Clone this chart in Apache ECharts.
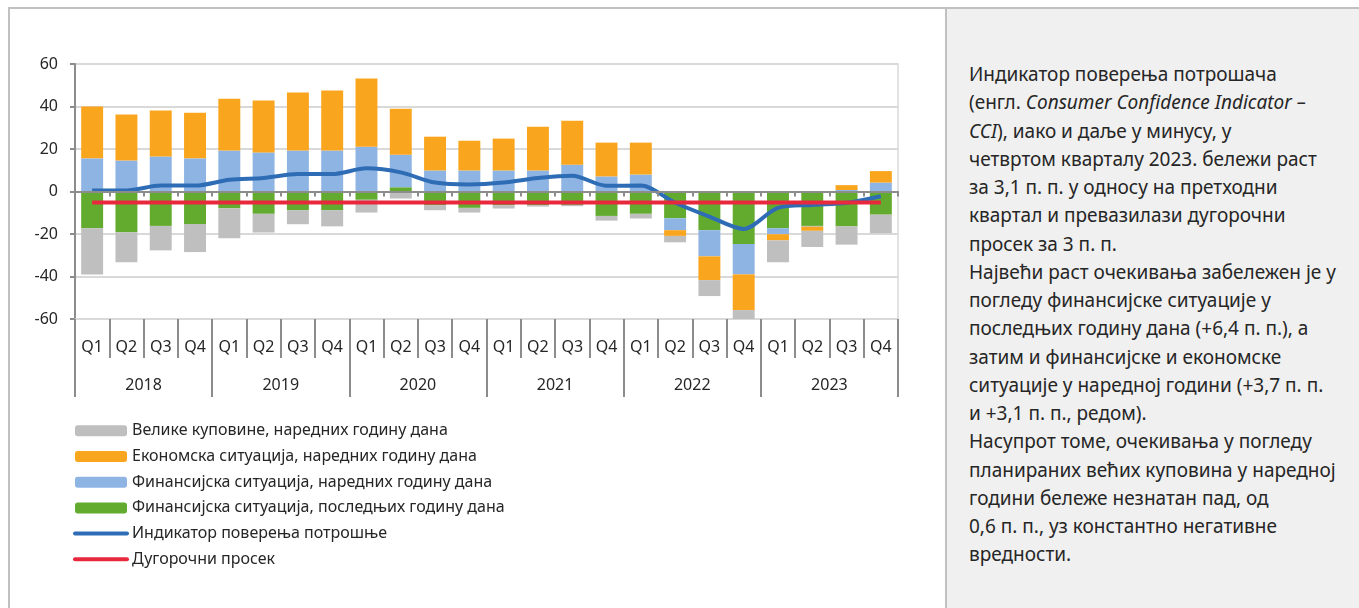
<!DOCTYPE html>
<html>
<head>
<meta charset="utf-8">
<script src="https://cdn.jsdelivr.net/npm/echarts@6/dist/echarts.min.js"></script>
<style>
	body { margin: 0; background: #fff; }
	#frame { position: absolute; left: 8px; top: 7px; width: 1351px; height: 601px;
		border-left: 2px solid #c0c0c0; border-top: 2px solid #c0c0c0; }
	#side { position: absolute; left: 945px; top: 9px; right: 0; bottom: 0;
		background: #f0f0f0; border-left: 2px solid #c0c0c0; }
	#note { position: absolute; left: 969px; top: 60px; font-family: 'Noto Sans', sans-serif;
		font-size: 19px; line-height: 28.25px; color: #262626; white-space: nowrap; }
	#chart { position: absolute; left: 0; top: 0; width: 945px; height: 608px; }
</style>
</head>
<body>
<div id="frame"></div>
<div id="side"></div>
<div id="note">
Индикатор поверења потрошача<br>
(енгл. <i>Consumer Confidence Indicator –</i><br>
<i>CCI</i>), иако и даље у минусу, у<br>
четвртом кварталу 2023. бележи раст<br>
за 3,1 п. п. у односу на претходни<br>
квартал и превазилази дугорочни<br>
просек за 3 п. п.<br>
Највећи раст очекивања забележен је у<br>
погледу финансијске ситуације у<br>
последњих годину дана (+6,4 п. п.), а<br>
затим и финансијске и економске<br>
ситуације у наредној години (+3,7 п. п.<br>
и +3,1 п. п., редом).<br>
Насупрот томе, очекивања у погледу<br>
планираних већих куповина у наредној<br>
години бележе незнатан пад, од<br>
0,6 п. п., уз константно негативне<br>
вредности.
</div>
<div id="chart"></div>
<script>
// категорије
var quarters = ['Q1', 'Q2', 'Q3', 'Q4', 'Q1', 'Q2', 'Q3', 'Q4', 'Q1', 'Q2', 'Q3', 'Q4',
	'Q1', 'Q2', 'Q3', 'Q4', 'Q1', 'Q2', 'Q3', 'Q4', 'Q1', 'Q2', 'Q3', 'Q4'];
var years = ['2018', '2019', '2020', '2021', '2022', '2023'];

// компоненте индикатора
var finPast = [-17.3, -19.2, -16.2, -15.3, -7.9, -10.5, -8.8, -8.8, -3.9, 2.0, -6.4, -7.7,
	-6.4, -6.4, -6.3, -11.5, -10.5, -12.6, -18.2, -24.7, -17.3, -16.2, -16.4, -10.9];
var finNext = [15.6, 14.6, 16.5, 15.6, 19.3, 18.4, 19.3, 19.3, 21.1, 15.3, 9.9, 9.9,
	9.9, 9.9, 12.6, 7.1, 8.0, -5.6, -12.3, -14.3, -2.8, -0.3, 0.7, 4.2];
var econNext = [24.4, 21.6, 21.6, 21.5, 24.4, 24.4, 27.3, 28.2, 32.1, 21.7, 15.9, 14.0,
	15.0, 20.6, 20.7, 15.9, 15.0, -2.7, -11.2, -16.8, -2.9, -2.0, 2.3, 5.4];
var bigBuy = [-21.7, -14.1, -11.5, -13.2, -14.1, -8.8, -6.6, -7.6, -6.0, -3.3, -2.4, -2.2,
	-1.6, -0.7, -0.6, -2.2, -2.2, -3.0, -7.5, -4.6, -10.3, -7.6, -8.6, -8.7];
var cci = [0.5, 0.5, 2.8, 2.8, 5.5, 6.4, 8.2, 8.2, 10.9, 9.0, 4.2, 3.3,
	4.2, 6.3, 7.4, 2.7, 2.8, -5.3, -11.8, -17.6, -7.7, -6.3, -5.3, -2.2];
var longAvg = [-5.2, -5.2, -5.2, -5.2, -5.2, -5.2, -5.2, -5.2, -5.2, -5.2, -5.2, -5.2,
	-5.2, -5.2, -5.2, -5.2, -5.2, -5.2, -5.2, -5.2, -5.2, -5.2, -5.2, -5.2];

var names = ['Велике куповине, наредних годину дана', 'Економска ситуација, наредних годину дана',
	'Финансијска ситуација, наредних годину дана', 'Финансијска ситуација, последњих годину дана',
	'Индикатор поверења потрошње', 'Дугорочни просек'];

var axisGray = '#8c8c8c';
var labelColor = '#262626';
var box = { left: 75, top: 64, width: 823, height: 255 };

// легенда: дебље линије, без кружића
var legendData = names.map(function(n, i) {
	if (i < 4) return { name: n };
	return { name: n, itemStyle: { opacity: 0, borderWidth: 0 }, lineStyle: { width: 4, cap: 'round' } };
});

var chart = echarts.init(document.getElementById('chart'));
var option = {
	animation: false,
	textStyle: { fontFamily: 'Noto Sans' },
	grid: [
		{ left: box.left, top: box.top, width: box.width, height: box.height,
			show: true, borderColor: '#d9d9d9', borderWidth: 1.5 },
		{ left: box.left, top: box.top, width: box.width, height: box.height },
		{ left: box.left, top: box.top, width: box.width, height: box.height }
	],
	legend: {
		orient: 'vertical',
		left: 73,
		top: 422,
		padding: 0,
		itemWidth: 52,
		itemHeight: 11,
		itemGap: 8.1,
		textStyle: { fontSize: 16, color: labelColor, lineHeight: 17.6 },
		data: legendData
	},
	xAxis: [
		{
			type: 'category', gridIndex: 0, data: quarters, z: 5,
			axisLine: { show: true, onZero: true, lineStyle: { color: axisGray, width: 2 } },
			axisTick: { show: true, length: 5, lineStyle: { color: axisGray, width: 2 } },
			axisLabel: { show: false }
		},
		{
			type: 'category', gridIndex: 1, data: quarters, position: 'bottom',
			axisLine: { show: true, onZero: false, lineStyle: { color: '#d9d9d9', width: 1.5 } },
			axisTick: { show: true, interval: 0, length: 39, lineStyle: { color: axisGray, width: 2 } },
			axisLabel: { interval: 0, margin: 20, fontSize: 16, color: labelColor }
		},
		{
			type: 'category', gridIndex: 2, data: years, position: 'bottom',
			axisLine: { show: true, onZero: false, lineStyle: { color: '#d9d9d9', width: 1.5 } },
			axisTick: { show: true, interval: 0, length: 78, lineStyle: { color: axisGray, width: 2 } },
			axisLabel: { interval: 0, margin: 58, fontSize: 16, color: labelColor }
		}
	],
	yAxis: [
		{
			type: 'value', gridIndex: 0, min: -60, max: 60, interval: 20,
			axisLine: { show: true, lineStyle: { color: axisGray, width: 2 } },
			axisTick: { show: true, length: 5, lineStyle: { color: axisGray, width: 2 } },
			splitLine: { lineStyle: { color: '#d9d9d9', width: 2 } },
			axisLabel: { fontSize: 16, color: labelColor, margin: 17 }
		},
		{ type: 'value', gridIndex: 1, show: false },
		{ type: 'value', gridIndex: 2, show: false }
	],
	series: [
		{ name: names[3], type: 'bar', stack: 'cci', barWidth: '64%', data: finPast,
			itemStyle: { color: '#62ab2f' } },
		{ name: names[2], type: 'bar', stack: 'cci', data: finNext,
			itemStyle: { color: '#8eb4e3' } },
		{ name: names[1], type: 'bar', stack: 'cci', data: econNext,
			itemStyle: { color: '#f9a61e' } },
		{ name: names[0], type: 'bar', stack: 'cci', data: bigBuy,
			itemStyle: { color: '#bfbfbf' } },
		{ name: names[4], type: 'line', data: cci, symbol: 'none', smooth: 0.3,
			lineStyle: { color: '#2e6db5', width: 4 }, itemStyle: { color: '#2e6db5' } },
		{ name: names[5], type: 'line', data: longAvg, symbol: 'none',
			lineStyle: { color: '#e8293d', width: 4 }, itemStyle: { color: '#e8293d' } }
	]
};
chart.setOption(option);
</script>
</body>
</html>
